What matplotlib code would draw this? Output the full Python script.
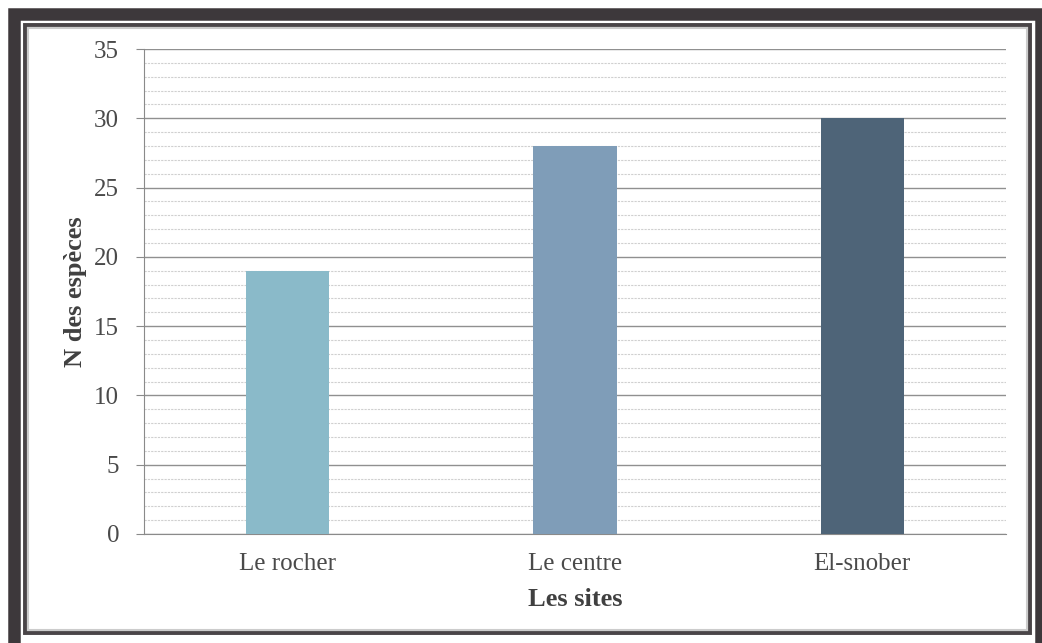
import numpy as np
from matplotlib import pyplot as plt
from matplotlib.patches import Rectangle

sites = ["Le rocher", "Le centre", "El-snober"]
especes = [19, 28, 30]
couleurs = ["#8abac9", "#7f9db8", "#4e6478"]

W, H = 1042, 643
fig = plt.figure(figsize=(W / 100, H / 100), dpi=100)
fig.patch.set_facecolor("white")
plt.rcParams['font.family'] = ['Liberation Serif', 'DejaVu Serif']

def px_rect(x0, y0, x1, y1, **kw):
    # rectangle en pixels (origine en haut a gauche)
    r = Rectangle((x0 / W, 1 - y1 / H), (x1 - x0) / W, (y1 - y0) / H,
                  transform=fig.transFigure, **kw)
    fig.patches.append(r)

# cadre
px_rect(14, 14, 1041, 647, fill=False, edgecolor="#3d383b", linewidth=9)
px_rect(25, 25, 1030, 633, fill=False, edgecolor="#4a4548", linewidth=2.8)
px_rect(28, 28, 1027, 630, fill=False, edgecolor="#cccccc", linewidth=1.5)

ax = fig.add_axes([144 / W, 1 - 534 / H, (1006 - 144) / W, (534 - 49) / H])
x = np.arange(len(sites))
ax.bar(x, especes, width=0.29, color=couleurs, zorder=3)

ax.set_xlim(-0.5, 2.5)
ax.set_ylim(0, 35)
ax.set_yticks(np.arange(0, 36, 5))
ax.set_yticks(np.arange(0, 36, 1), minor=True)
ax.grid(axis="y", which="major", color="#909090", linewidth=1.0, zorder=1)
ax.grid(axis="y", which="minor", color="#d0d0d0", linewidth=0.8, linestyle=(0, (2, 1)), zorder=1)
ax.set_axisbelow(True)

for s in ["top", "right"]:
    ax.spines[s].set_visible(False)
ax.spines["left"].set_color("#8a8a8a")
ax.spines["bottom"].set_color("#8a8a8a")

ax.tick_params(axis="y", which="major", length=6, color="#8a8a8a", labelsize=18,
               labelcolor="#4a4a4a", pad=12)
ax.tick_params(axis="y", which="minor", length=0)
ax.tick_params(axis="x", length=0, labelsize=18, labelcolor="#4a4a4a", pad=14)

ax.set_xticks(x)
ax.set_xticklabels(sites)
ax.set_xlabel("Les sites", fontsize=19, fontweight="bold", color="#404040", labelpad=9)
ax.set_ylabel("N des espèces", fontsize=19, fontweight="bold", color="#404040", labelpad=5)

plt.savefig("out.png", dpi=100)
